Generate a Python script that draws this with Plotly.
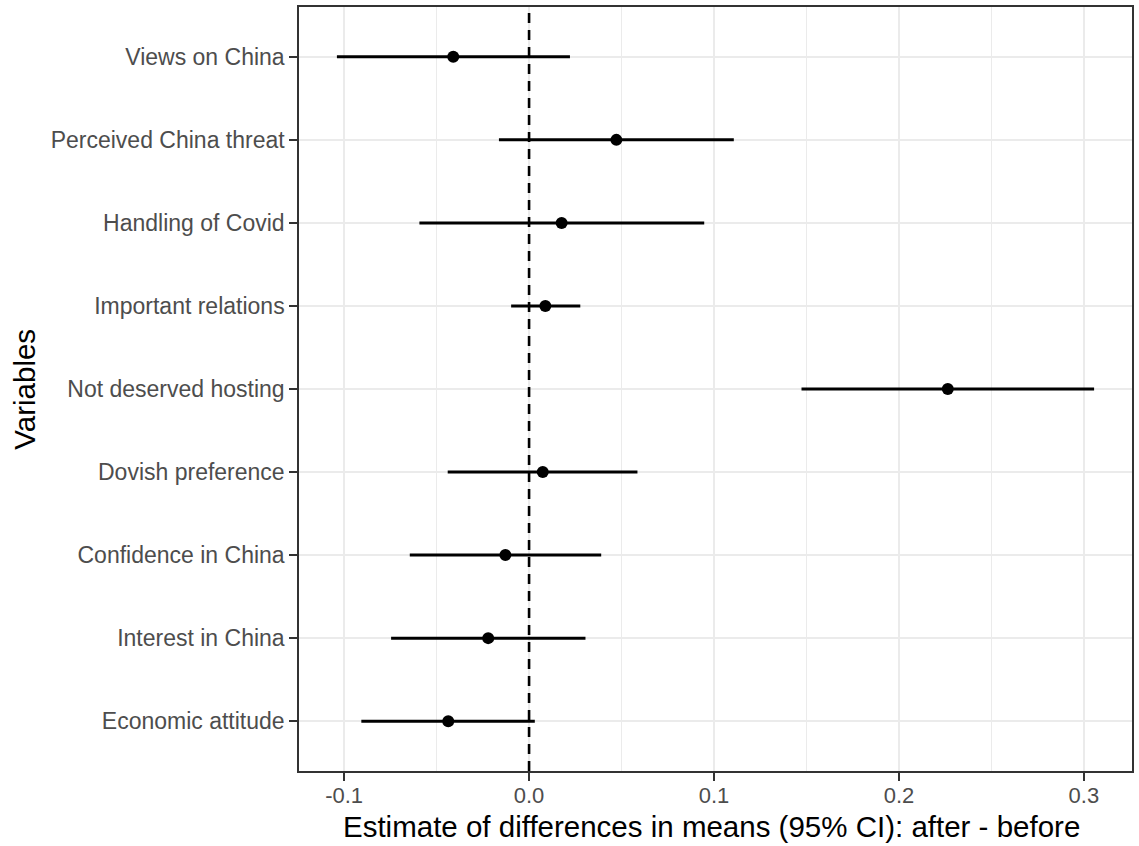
import plotly.graph_objects as go

# Differences in means (after - before) with 95% confidence intervals
variables = [
    "Views on China",
    "Perceived China threat",
    "Handling of Covid",
    "Important relations",
    "Not deserved hosting",
    "Dovish preference",
    "Confidence in China",
    "Interest in China",
    "Economic attitude",
]
estimate = [-0.041, 0.0472, 0.0176, 0.0088, 0.2264, 0.0074, -0.0128, -0.0221, -0.0437]
ci_low = [-0.1039, -0.0163, -0.0593, -0.0097, 0.1473, -0.0440, -0.0645, -0.0746, -0.0907]
ci_high = [0.0221, 0.1107, 0.0947, 0.0277, 0.3055, 0.0586, 0.0390, 0.0305, 0.0031]

x_ticks = [-0.1, 0.0, 0.1, 0.2, 0.3]
x_tick_labels = ["-0.1", "0.0", "0.1", "0.2", "0.3"]
x_minor = [-0.05, 0.05, 0.15, 0.25]

FONT = "Liberation Sans, Arial, sans-serif"
GRID = "#EBEBEB"

fig = go.Figure()

# Zero reference line
fig.add_vline(x=0, line=dict(color="black", width=2.6, dash="10px,7px"), layer="above")

fig.add_trace(go.Scatter(
    x=estimate,
    y=variables,
    mode="markers",
    marker=dict(color="black", size=12),
    error_x=dict(
        type="data",
        symmetric=False,
        array=[h - e for h, e in zip(ci_high, estimate)],
        arrayminus=[e - l for e, l in zip(estimate, ci_low)],
        width=0,
        thickness=3,
        color="black",
    ),
    showlegend=False,
    hoverinfo="x+y",
))

fig.update_layout(
    width=1139,
    height=846,
    margin=dict(l=299, r=5, t=5, b=75),
    paper_bgcolor="white",
    plot_bgcolor="white",
    font=dict(family=FONT),
    xaxis=dict(
        range=[-0.1244, 0.326],
        tickvals=x_ticks,
        ticktext=x_tick_labels,
        tickfont=dict(size=22, color="#4D4D4D", family=FONT),
        ticks="outside",
        ticklen=8,
        tickwidth=1.5,
        tickcolor="#333333",
        ticklabelstandoff=-4,
        showgrid=True,
        gridcolor=GRID,
        gridwidth=2,
        minor=dict(tickvals=x_minor, showgrid=True, gridcolor=GRID, gridwidth=1, ticks=""),
        zeroline=False,
        showline=True,
        linecolor="#333333",
        linewidth=1.5,
        mirror=True,
    ),
    yaxis=dict(
        categoryorder="array",
        categoryarray=variables[::-1],
        range=[-0.6, 8.6],
        tickfont=dict(size=23, color="#4D4D4D", family=FONT),
        ticks="outside",
        ticklen=8,
        tickwidth=1.5,
        tickcolor="#333333",
        showgrid=True,
        gridcolor=GRID,
        gridwidth=2,
        zeroline=False,
        showline=True,
        linecolor="#333333",
        linewidth=1.5,
        mirror=True,
    ),
    annotations=[
        dict(
            text="Estimate of differences in means (95% CI): after - before",
            xref="paper", yref="paper", x=0.4954, y=-0.072,
            xanchor="center", yanchor="middle", showarrow=False,
            font=dict(size=29.5, color="black", family=FONT),
        ),
        dict(
            text="Variables",
            xref="paper", yref="paper", x=-0.3305, y=0.5,
            xanchor="center", yanchor="middle", textangle=-90, showarrow=False,
            font=dict(size=29.5, color="black", family=FONT),
        ),
    ],
)

fig.write_html("out.html")
